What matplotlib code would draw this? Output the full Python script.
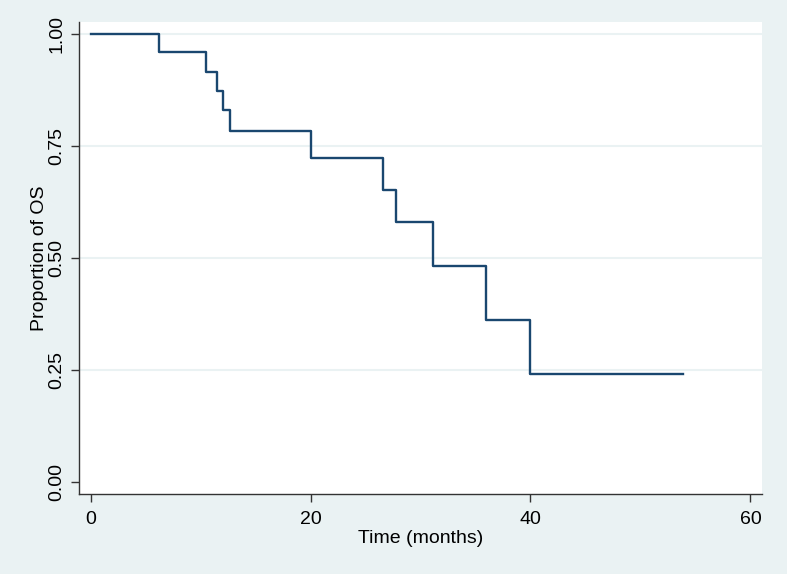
import matplotlib.pyplot as plt

plt.rcParams['font.family'] = ['Liberation Sans', 'DejaVu Sans']

# Kaplan-Meier step points
times = [0, 6.2, 10.5, 11.5, 12.0, 12.7, 20.0, 26.6, 27.8, 31.1, 36.0, 40.0, 53.9]
surv = [1.00, 0.96, 0.915, 0.872, 0.829, 0.783, 0.723, 0.651, 0.579, 0.481, 0.360, 0.240, 0.240]

x_ticks = [0, 20, 40, 60]
y_ticks = [0.00, 0.25, 0.50, 0.75, 1.00]
y_labels = ['0.00', '0.25', '0.50', '0.75', '1.00']

bg = '#eaf2f3'
navy = '#1a476f'

fig = plt.figure(figsize=(7.87, 5.74), dpi=100, facecolor=bg)
ax = fig.add_axes([79 / 787, 1 - 494 / 574, (762 - 79) / 787, (494 - 22) / 574])
ax.set_facecolor('white')

for y in y_ticks[1:]:
    ax.axhline(y, color=bg, lw=1.5, zorder=1)

ax.step(times, surv, where='post', color=navy, lw=1.7, zorder=3)

ax.set_xlim(-1.05, 61.05)
ax.set_ylim(-0.0275, 1.026)
ax.set_xticks(x_ticks)
ax.set_yticks(y_ticks)
ax.set_yticklabels(y_labels, rotation=90, va='center')
ax.tick_params(direction='out', length=6, width=1, color='#333333',
               labelsize=14)
ax.tick_params(axis='x', pad=6)
ax.tick_params(axis='y', pad=4)

for side in ['top', 'right']:
    ax.spines[side].set_visible(False)
for side in ['left', 'bottom']:
    ax.spines[side].set_color('#333333')
    ax.spines[side].set_linewidth(1)

ax.set_xlabel('Time (months)', fontsize=14, labelpad=2)
ax.set_ylabel('Proportion of OS', fontsize=14, labelpad=0)

fig.savefig('out.png', dpi=100, facecolor=bg)
